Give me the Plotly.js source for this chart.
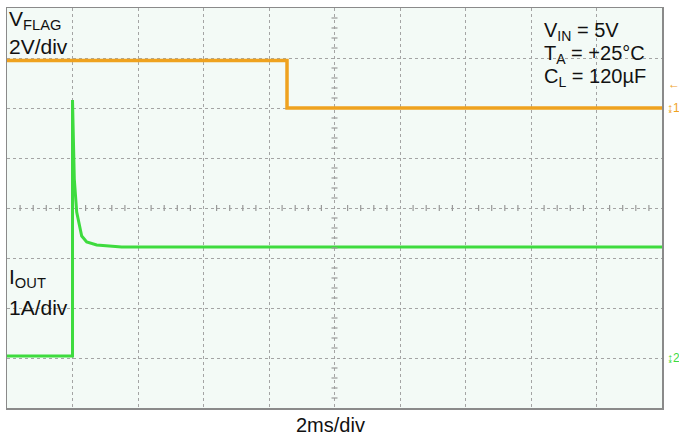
<!DOCTYPE html>
<html>
<head>
<meta charset="utf-8">
<script src="https://cdn.plot.ly/plotly-3.0.1.min.js"></script>
<style>html,body{margin:0;padding:0;background:#fff;}#chart{width:679px;height:440px;}</style>
</head>
<body>
<div id="chart"></div>
<script>
// Time in ms (2 ms/div, 10 divisions)
const flagTime = [0, 8.55, 8.55, 20];
const flagVolts = [1.9, 1.9, 0.0, 0.0];          // V_FLAG, 2 V/div
const ioutTime = [0, 2.0, 2.0, 2.024, 2.055, 2.128, 2.208, 2.281, 2.434, 2.739, 3.5, 20];
const ioutAmps = [0.04, 0.04, 5.16, 4.02, 3.58, 2.92, 2.64, 2.44, 2.32, 2.26, 2.22, 2.22]; // I_OUT, 1 A/div
const flagTrigger = 0.96;
const labels = {
  vflag: 'V<sub>FLAG</sub>', vdiv: '2V/div',
  iout: 'I<sub>OUT</sub>', idiv: '1A/div',
  cond: ['V<sub>IN</sub> = 5V', 'T<sub>A</sub> = +25°C', 'C<sub>L</sub> = 120µF'],
  xdiv: '2ms/div'
};

const orange = '#EFA21F', green = '#3EDB3E';
const fam = 'Liberation Sans, Arial, sans-serif';
const fontL = {family: fam, size: 21, color: '#111'};
const fontR = {family: fam, size: 20, color: '#111'};

const traces = [
  {x: flagTime, y: flagVolts, type: 'scatter', mode: 'lines', xaxis: 'x', yaxis: 'y',
   line: {color: orange, width: 3.5}, hoverinfo: 'skip'},
  {x: ioutTime, y: ioutAmps, type: 'scatter', mode: 'lines', xaxis: 'x', yaxis: 'y2',
   line: {color: green, width: 3}, hoverinfo: 'skip'}
];

// Center-graticule minor ticks (decoration)
const shapes = [];
const tickCol = '#9a9a9a';
for (let k = 1; k < 50; k++) {
  if (k % 5 === 0) continue;
  const t = k * 0.4;
  shapes.push({type: 'line', xref: 'x', yref: 'paper', ysizemode: 'pixel', yanchor: 0.5,
               x0: t, x1: t, y0: -3, y1: 3, line: {color: tickCol, width: 1.2}});
}
for (let k = 1; k < 40; k++) {
  if (k % 5 === 0) continue;
  const f = k / 40;
  shapes.push({type: 'line', xref: 'paper', yref: 'paper', xsizemode: 'pixel', xanchor: 0.5,
               y0: f, y1: f, x0: -3, x1: 3, line: {color: tickCol, width: 1.2}});
}

const gridCol = '#a4a4a4';
const rx = 0.817;
const layout = {
  width: 679, height: 440,
  margin: {l: 7, r: 17, t: 8, b: 32},
  paper_bgcolor: '#ffffff', plot_bgcolor: '#f3faf6',
  showlegend: false,
  shapes: shapes,
  xaxis: {range: [0, 20], dtick: 2, showgrid: true, gridcolor: gridCol, griddash: 'dot', gridwidth: 1,
          zeroline: false, showticklabels: false, ticks: '', showline: true, mirror: true,
          linecolor: '#8a8a8a', linewidth: 1.5, fixedrange: true},
  yaxis: {range: [-12, 4], dtick: 2, showgrid: true, gridcolor: gridCol, griddash: 'dot', gridwidth: 1,
          zeroline: false, showticklabels: false, ticks: '', showline: true, mirror: true,
          linecolor: '#8a8a8a', linewidth: 1.5, fixedrange: true},
  yaxis2: {range: [-1, 7], overlaying: 'y', showgrid: false, zeroline: false, showticklabels: false, ticks: '', showline: false},
  annotations: [
    {xref: 'paper', yref: 'paper', x: 0.0, y: 1.008, xanchor: 'left', yanchor: 'top', text: labels.vflag, showarrow: false, font: fontL},
    {xref: 'paper', yref: 'paper', x: 0.0, y: 0.938, xanchor: 'left', yanchor: 'top', text: labels.vdiv, showarrow: false, font: fontL},
    {xref: 'paper', yref: 'paper', x: 0.0, y: 0.362, xanchor: 'left', yanchor: 'top', text: labels.iout, showarrow: false, font: fontL},
    {xref: 'paper', yref: 'paper', x: 0.0, y: 0.284, xanchor: 'left', yanchor: 'top', text: labels.idiv, showarrow: false, font: fontL},
    {xref: 'paper', yref: 'paper', x: rx, y: 0.978, xanchor: 'left', yanchor: 'top', text: labels.cond[0], showarrow: false, font: fontR},
    {xref: 'paper', yref: 'paper', x: rx, y: 0.92, xanchor: 'left', yanchor: 'top', text: labels.cond[1], showarrow: false, font: fontR},
    {xref: 'paper', yref: 'paper', x: rx, y: 0.8625, xanchor: 'left', yanchor: 'top', text: labels.cond[2], showarrow: false, font: fontR},
    {xref: 'paper', yref: 'paper', x: 0.494, y: -0.01, xanchor: 'center', yanchor: 'top', text: labels.xdiv, showarrow: false, font: {family: fam, size: 20, color: '#111'}},
    {xref: 'paper', yref: 'y', x: 1.006, y: flagTrigger, xanchor: 'left', yanchor: 'middle', text: '←', showarrow: false, font: {family: fam, size: 12, color: orange}},
    {xref: 'paper', yref: 'y', x: 1.004, y: 0, xanchor: 'left', yanchor: 'middle', text: '↨1', showarrow: false, font: {family: fam, size: 12, color: orange}},
    {xref: 'paper', yref: 'y2', x: 1.004, y: 0, xanchor: 'left', yanchor: 'middle', text: '↨2', showarrow: false, font: {family: fam, size: 12, color: green}}
  ]
};

Plotly.newPlot('chart', traces, layout, {staticPlot: true, displayModeBar: false});
</script>
</body>
</html>
